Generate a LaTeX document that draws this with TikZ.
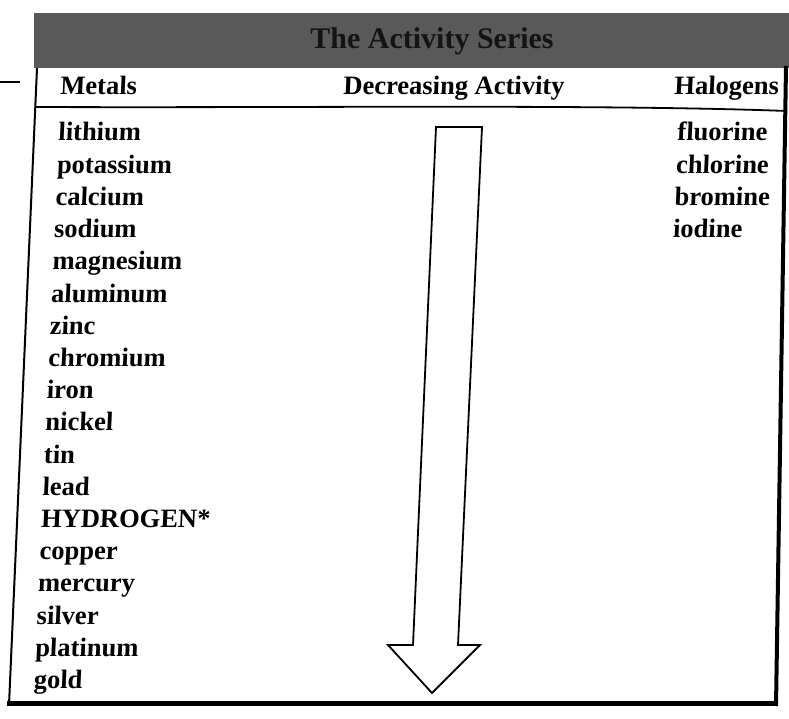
\documentclass[tikz,border=0pt]{standalone}
\usepackage{fontspec}
\setmainfont{Liberation Serif}
\begin{document}
\begin{tikzpicture}[x=1pt,y=-1pt,
  lbl/.style={font=\fontsize{26.5}{30}\selectfont\bfseries, inner sep=0pt, anchor=base west, xslant=0.045},
  headlbl/.style={lbl},
  frame/.style={draw=black, line width=2pt},
  heavyframe/.style={draw=black, line width=5pt},
  arrowbox/.style={draw=black, line width=1.8pt, line join=miter, fill=white},
  bar/.style={fill=black!65, draw=none},
  titlelbl/.style={font=\fontsize{30}{34}\selectfont\bfseries, text=black!92, inner sep=0pt}
]
\useasboundingbox (0,0) rectangle (789,719);
% header bar
\fill[bar] (34,13) rectangle (789,68);
\node[titlelbl] (title) at (432,41) {The Activity Series};
% frame
\draw[frame] (37,68) -- (9,705);
\draw[line width=4pt] (786,66) -- (776,706);
\draw[heavyframe] (7,703) -- (778,703);
\draw[line width=1.8pt] (36,107) .. controls (300,108) and (600,104) .. (787,111);
\draw[line width=1.5pt] (0,82) -- (20,82);
% headings
\node[headlbl] (hmet) at (60,95) {Metals};
\node[headlbl] (hdec) at (343,95) {Decreasing Activity};
\node[headlbl] (hhal) at (674,95) {Halogens};
% metals
\foreach \m [count=\i from 0] in {lithium,potassium,calcium,sodium,magnesium,aluminum,zinc,chromium,iron,nickel,tin,lead,HYDROGEN*,copper,mercury,silver,platinum,gold}
  \node[lbl] (m\i) at ({58-1.45*\i},{141+32.2*\i}) {\m};
% halogens
\foreach \h [count=\i from 0] in {fluorine,chlorine,bromine,iodine}
  \node[lbl] (h\i) at ({677-1.45*\i},{141+32.2*\i}) {\h};
% arrow
\coordinate (a1) at (436,127);
\coordinate (a2) at (482,127);
\coordinate (a3) at (458,645);
\coordinate (a4) at (480,645);
\coordinate (a5) at (432,693);
\coordinate (a6) at (388,645);
\coordinate (a7) at (413,645);
\draw[arrowbox] (a1) -- (a2) -- (a3) -- (a4) -- (a5) -- (a6) -- (a7) -- cycle;
\end{tikzpicture}
\end{document}
